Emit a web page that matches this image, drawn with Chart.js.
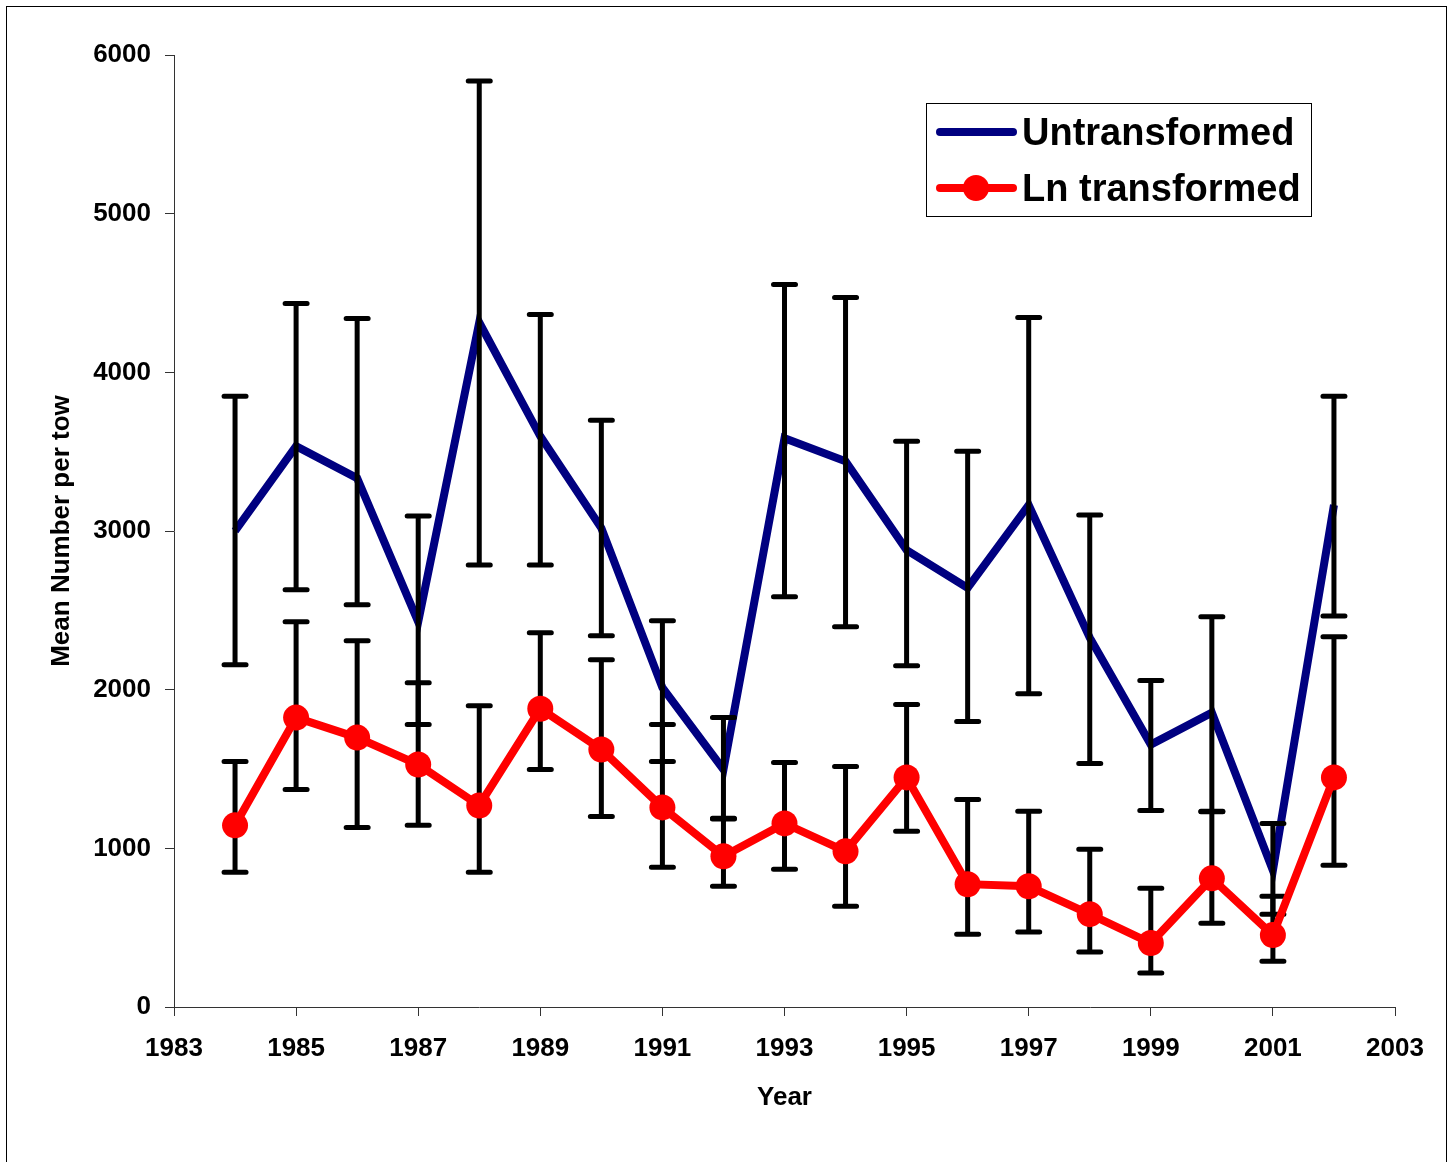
<!DOCTYPE html>
<html>
<head>
<meta charset="utf-8">
<script src="https://cdn.jsdelivr.net/npm/chart.js@4.4.1/dist/chart.umd.min.js"></script>
<style>
  body { margin: 0; background: #fff; }
  #chart { display: block; }
</style>
</head>
<body>
<canvas id="chart" width="1453" height="1162"></canvas>
<script>
// survey years
var years = [1984, 1985, 1986, 1987, 1988, 1989, 1990, 1991, 1992, 1993,
             1994, 1995, 1996, 1997, 1998, 1999, 2000, 2001, 2002];

// untransformed means and error bar ends
var untransformed = [3000, 3535, 3333, 2428, 4314, 3597, 3019, 2013, 1497, 3585,
                     3440, 2880, 2642, 3164, 2327, 1654, 1855, 860, 3164];
var untransHigh = [3849, 4434, 4340, 3094, 5836, 4365, 3698, 2434, 1824, 4553,
                   4472, 3566, 3503, 4346, 3101, 2057, 2459, 1157, 3849];
var untransLow = [2157, 2629, 2535, 1780, 2786, 2786, 2340, 1547, 1189, 2585,
                  2396, 2151, 1799, 1975, 1535, 1239, 1233, 585, 2465];

// ln transformed means and error bar ends
var lnTransformed = [1145, 1824, 1698, 1528, 1270, 1880, 1623, 1258, 950, 1157,
                     981, 1447, 774, 761, 585, 403, 811, 453, 1447];
var lnHigh = [1547, 2428, 2308, 2044, 1899, 2358, 2189, 1780, 1185, 1541,
              1516, 1906, 1308, 1233, 994, 748, 1230, 698, 2333];
var lnLow = [849, 1371, 1132, 1145, 849, 1497, 1201, 881, 761, 868,
             635, 1107, 459, 472, 346, 214, 528, 289, 893];

var xTicks = [1983, 1985, 1987, 1989, 1991, 1993, 1995, 1997, 1999, 2001, 2003];
var yTicks = [0, 1000, 2000, 3000, 4000, 5000, 6000];

var FONT = "'Liberation Sans', Arial, sans-serif";

function points(vals) {
  return years.map(function (y, i) { return { x: y, y: vals[i] }; });
}

// frame round the whole picture
var framePlugin = {
  id: 'frame',
  beforeDraw: function (chart) {
    var ctx = chart.ctx;
    ctx.save();
    ctx.fillStyle = '#fff';
    ctx.fillRect(0, 0, chart.width, chart.height);
    ctx.strokeStyle = '#000';
    ctx.lineWidth = 1;
    ctx.strokeRect(6.5, 6.5, 1440, 1170);
    ctx.restore();
  }
};

// error bars drawn just before the red series so red sits on top
var errorBarPlugin = {
  id: 'errorBars',
  beforeDatasetDraw: function (chart, args) {
    if (args.index !== 1) return;
    var ctx = chart.ctx;
    var xs = chart.scales.x, ys = chart.scales.y;
    var sets = [[untransHigh, untransLow], [lnHigh, lnLow]];
    ctx.save();
    ctx.strokeStyle = '#000';
    ctx.lineWidth = 5;
    ctx.lineCap = 'round';
    sets.forEach(function (s) {
      for (var i = 0; i < years.length; i++) {
        var px = xs.getPixelForValue(years[i]);
        var top = ys.getPixelForValue(s[0][i]);
        var bot = ys.getPixelForValue(s[1][i]);
        ctx.beginPath();
        ctx.moveTo(px, top); ctx.lineTo(px, bot);
        ctx.moveTo(px - 11, top); ctx.lineTo(px + 11, top);
        ctx.moveTo(px - 11, bot); ctx.lineTo(px + 11, bot);
        ctx.stroke();
      }
    });
    ctx.restore();
  }
};

var legendPlugin = {
  id: 'boxLegend',
  afterDraw: function (chart) {
    var ctx = chart.ctx;
    ctx.save();
    ctx.fillStyle = '#fff';
    ctx.fillRect(926, 103, 385, 113);
    ctx.strokeStyle = '#000';
    ctx.lineWidth = 1;
    ctx.strokeRect(926.5, 103.5, 385, 113);
    ctx.lineCap = 'round';
    ctx.lineWidth = 8;
    ctx.strokeStyle = '#000080';
    ctx.beginPath(); ctx.moveTo(940, 132); ctx.lineTo(1013, 132); ctx.stroke();
    ctx.strokeStyle = '#ff0000';
    ctx.beginPath(); ctx.moveTo(940, 188); ctx.lineTo(1013, 188); ctx.stroke();
    ctx.fillStyle = '#ff0000';
    ctx.beginPath(); ctx.arc(976, 188, 13, 0, Math.PI * 2); ctx.fill();
    ctx.fillStyle = '#000';
    ctx.font = 'bold 38px ' + FONT;
    ctx.textBaseline = 'middle';
    ctx.fillText(chart.data.datasets[0].label, 1022, 135);
    ctx.fillText(chart.data.datasets[1].label, 1022, 191);
    ctx.restore();
  }
};

new Chart(document.getElementById('chart'), {
  type: 'line',
  data: {
    datasets: [{
      label: 'Untransformed',
      data: points(untransformed),
      borderColor: '#000080',
      borderWidth: 8,
      pointRadius: 0,
      fill: false,
      tension: 0,
      order: 2
    }, {
      label: 'Ln transformed',
      data: points(lnTransformed),
      borderColor: '#ff0000',
      backgroundColor: '#ff0000',
      borderWidth: 8,
      pointRadius: 13,
      pointBorderWidth: 0,
      pointBackgroundColor: '#ff0000',
      fill: false,
      tension: 0,
      order: 1
    }]
  },
  options: {
    responsive: false,
    animation: false,
    layout: { padding: { left: 0, top: 55, right: 58, bottom: 0 } },
    plugins: { legend: { display: false }, tooltip: { enabled: false } },
    scales: {
      x: {
        type: 'linear',
        min: 1983,
        max: 2003,
        afterFit: function (scale) { scale.height = 155; },
        afterBuildTicks: function (scale) {
          scale.ticks = xTicks.map(function (v) { return { value: v }; });
        },
        ticks: {
          color: '#000',
          font: { family: FONT, size: 26, weight: 'bold' },
          padding: 17,
          maxRotation: 0,
          autoSkip: false,
          callback: function (v) { return String(v); }
        },
        grid: { display: true, drawOnChartArea: false, drawTicks: true, tickLength: 9, color: '#333', lineWidth: 1 },
        border: { display: true, color: '#333', width: 1 },
        title: {
          display: true,
          text: 'Year',
          color: '#000',
          font: { family: FONT, size: 26, weight: 'bold' },
          padding: { top: 0, bottom: 49 }
        }
      },
      y: {
        min: 0,
        max: 6000,
        afterFit: function (scale) { scale.width = 174; },
        afterBuildTicks: function (scale) {
          scale.ticks = yTicks.map(function (v) { return { value: v }; });
        },
        ticks: {
          color: '#000',
          font: { family: FONT, size: 26, weight: 'bold' },
          padding: 14,
          callback: function (v) { return String(v); }
        },
        grid: { display: true, drawOnChartArea: false, drawTicks: true, tickLength: 9, color: '#333', lineWidth: 1 },
        border: { display: true, color: '#333', width: 1 },
        title: {
          display: true,
          text: 'Mean Number per tow',
          color: '#000',
          font: { family: FONT, size: 26, weight: 'bold' },
          padding: { top: 46, bottom: 0 }
        }
      }
    }
  },
  plugins: [framePlugin, errorBarPlugin, legendPlugin]
});
</script>
</body>
</html>
